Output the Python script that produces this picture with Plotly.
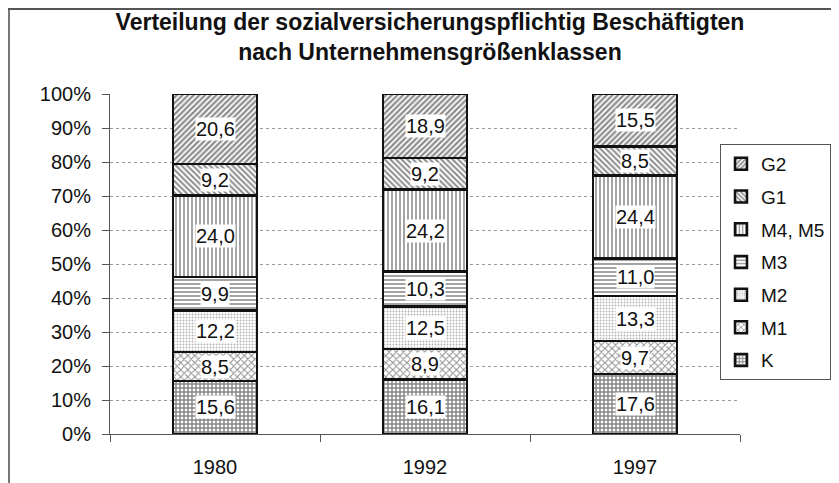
import plotly.graph_objects as go

years = ["1980", "1992", "1997"]
series_names = ["K", "M1", "M2", "M3", "M4, M5", "G1", "G2"]
K = [15.6, 16.1, 17.6]
M1 = [8.5, 8.9, 9.7]
M2 = [12.2, 12.5, 13.3]
M3 = [9.9, 10.3, 11.0]
M45 = [24.0, 24.2, 24.4]
G1 = [9.2, 9.2, 8.5]
G2 = [20.6, 18.9, 15.5]
series_values = [K, M1, M2, M3, M45, G1, G2]
y_ticks = [0, 10, 20, 30, 40, 50, 60, 70, 80, 90, 100]
y_tick_labels = ["0%", "10%", "20%", "30%", "40%", "50%", "60%", "70%", "80%", "90%", "100%"]

patterns = {
    "K": dict(shape="+", size=4, solidity=0.6, fg="#111111"),
    "M1": dict(shape="x", size=5, solidity=0.35, fg="#1a1a1a"),
    "M2": dict(shape=".", size=3, solidity=0.3, fg="#666666"),
    "M3": dict(shape="-", size=4, solidity=0.4, fg="#1a1a1a"),
    "M4, M5": dict(shape="|", size=4, solidity=0.4, fg="#1a1a1a"),
    "G1": dict(shape="\\", size=4, solidity=0.5, fg="#1a1a1a"),
    "G2": dict(shape="/", size=4, solidity=0.55, fg="#1a1a1a"),
}

# figure is placed by the page at (8, 8): all pixel positions below are figure-relative
W, H = 831, 475
PL, PR, PT, PB = 102, 732, 86, 426  # plot area in figure pixels

def px(x):
    return (x - PL) / (PR - PL)

def py(y):
    return (PB - y) / (PB - PT)

fig = go.Figure()
n = len(series_names)
for k, (name, vals) in enumerate(zip(series_names, series_values)):
    p = patterns[name]
    fig.add_trace(go.Bar(
        name=name, x=years, y=vals, width=0.4, legendgroup=name, legendrank=n - k,
        marker=dict(color="white", line=dict(color="#111111", width=2.5),
                    pattern=dict(shape=p["shape"], size=p["size"], solidity=p["solidity"],
                                 fgcolor=p["fg"], bgcolor="white", fillmode="overlay")),
        hoverinfo="skip",
    ))

# value labels with white boxes (positioned by category index and normalized stack midpoint)
for i, yr in enumerate(years):
    total = sum(v[i] for v in series_values)
    cum = 0.0
    for vals in series_values:
        v = vals[i]
        mid = (cum + v / 2) / total * 100
        cum += v
        fig.add_annotation(x=i, y=mid, xref="x", yref="y",
                           text=f"{v:.1f}".replace(".", ","), showarrow=False,
                           bgcolor="white", borderpad=0,
                           font=dict(family="Liberation Sans, Arial", size=20, color="#111111"))

fig.update_layout(
    width=W, height=H,
    barmode="stack", barnorm="percent",
    paper_bgcolor="white", plot_bgcolor="white",
    margin=dict(l=PL, r=W - PR, t=PT, b=H - PB, autoexpand=False),
    title=dict(text="Verteilung der sozialversicherungspflichtig Beschäftigten<br>nach Unternehmensgrößenklassen",
               x=422 / W, xanchor="center", xref="container", y=1 - 22 / H, yanchor="top",
               font=dict(family="Liberation Sans, Arial", size=23, color="#111111", weight="bold")),
    font=dict(family="Liberation Sans, Arial", size=20, color="#111111"),
    legend=dict(traceorder="grouped", x=712 / W, xref="container", xanchor="left",
                y=1 - 136 / H, yref="container", yanchor="top",
                bordercolor="#555555", borderwidth=1, bgcolor="white",
                font=dict(size=19), tracegroupgap=5, itemwidth=30),
    showlegend=True,
)

fig.update_xaxes(type="category", range=[-0.5, 2.5], automargin=False,
                 showline=True, linecolor="#555555", linewidth=1,
                 ticks="outside", tickson="boundaries", ticklen=7, tickcolor="#555555",
                 ticklabelstandoff=15, showgrid=False, tickangle=0)
fig.update_yaxes(range=[0, 100], tickvals=y_ticks, ticktext=y_tick_labels, automargin=False,
                 showline=True, linecolor="#555555", linewidth=1,
                 ticks="outside", ticklen=7, tickcolor="#555555", ticklabelstandoff=7,
                 showgrid=True, gridcolor="#999999", griddash="dot", gridwidth=1, zeroline=False)

# outer frame (left and top edges of the scanned chart border)
fig.add_shape(type="line", xref="paper", yref="paper", x0=px(1), x1=px(1),
              y0=py(H), y1=py(1), line=dict(color="#777777", width=2))
fig.add_shape(type="line", xref="paper", yref="paper", x0=px(0), x1=px(W),
              y0=py(1), y1=py(1), line=dict(color="#555555", width=2))

fig.write_html("out.html")
